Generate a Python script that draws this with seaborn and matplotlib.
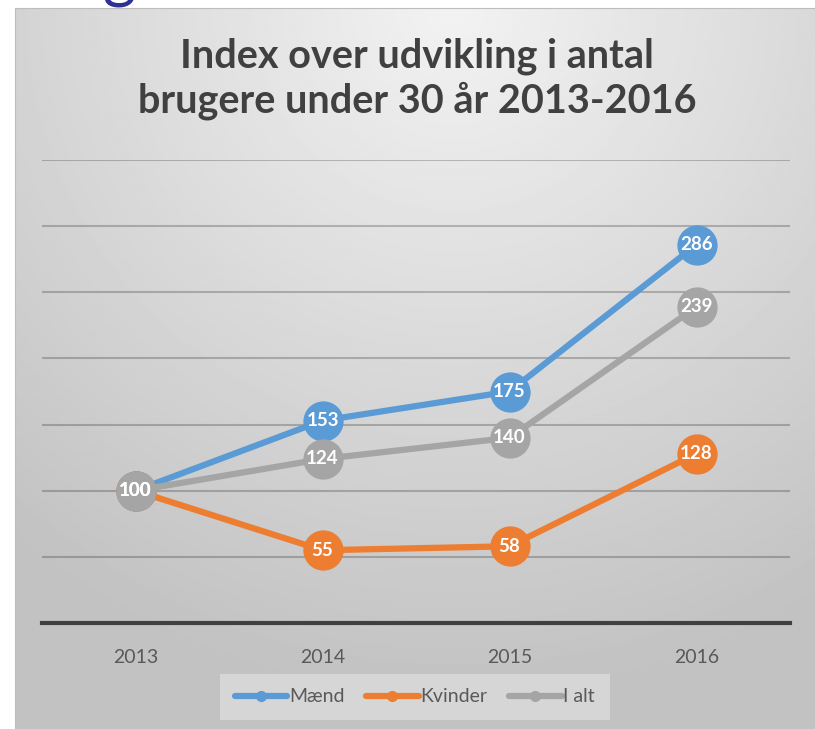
import numpy as np
import pandas as pd
import seaborn as sns
import matplotlib.pyplot as plt
from matplotlib.lines import Line2D

years = ['2013', '2014', '2015', '2016']
maend = [100, 153, 175, 286]
kvinder = [100, 55, 58, 128]
i_alt = [100, 124, 140, 239]
series_names = ['Mænd', 'Kvinder', 'I alt']
colors = ['#5b9bd5', '#ed7d31', '#a5a5a5']
title = 'Index over udvikling i antal\nbrugere under 30 år 2013-2016'

sns.set_style('white')
plt.rcParams['font.family'] = ['Lato', 'DejaVu Sans']

df = pd.DataFrame({'År': years * 3,
                   'Index': maend + kvinder + i_alt,
                   'Serie': [s for s in series_names for _ in years]})

fig = plt.figure(figsize=(8.15, 7.29), dpi=100)
fig.patch.set_facecolor('white')

# chart area background, radial-ish gradient like the office chart style
bg = fig.add_axes([15 / 815, 0, 1 - 15 / 815, 1 - 8 / 729], zorder=-2)
gx, gy = np.meshgrid(np.linspace(0, 1, 400), np.linspace(0, 1, 400))
d = np.sqrt(((gx - 0.55) * 1.0) ** 2 + ((gy - 0.0) * 0.9) ** 2)
shade = np.clip(0.95 - 0.22 * d, 0.76, 0.95)
bg.imshow(shade, cmap='gray', vmin=0, vmax=1, aspect='auto', extent=[0, 1, 1, 0])
bg.set_xticks([])
bg.set_yticks([])
for s in ['top', 'left']:
    bg.spines[s].set_color('#bdbdbd')
for s in ['bottom', 'right']:
    bg.spines[s].set_visible(False)

ax = fig.add_axes([42 / 815, 1 - 623 / 729, (790 - 42) / 815, (623 - 160) / 729])
ax.set_facecolor('none')

sns.lineplot(data=df, x='År', y='Index', hue='Serie', palette=colors,
             marker='o', markersize=29, linewidth=4.5, markeredgewidth=0,
             legend=False, ax=ax, zorder=3)

for name, vals, c in zip(series_names, [maend, kvinder, i_alt], colors):
    for i, v in enumerate(vals):
        ax.text(i, v, str(v), ha='center', va='center', color='white',
                fontsize=13.5, fontweight='bold', zorder=5)

ax.set_xlim(-0.5, 3.5)
ax.set_ylim(0, 350)
ax.set_yticks(np.arange(0, 351, 50))
ax.set_yticklabels([])
ax.tick_params(axis='y', length=0)
ax.tick_params(axis='x', length=0, labelsize=14, labelcolor='#595959', pad=19)
ax.yaxis.grid(True, color='black', alpha=0.22, linewidth=1.5)
ax.set_axisbelow(True)
ax.set_xlabel('')
ax.set_ylabel('')
for s in ['top', 'left', 'right']:
    ax.spines[s].set_visible(False)
ax.spines['bottom'].set_color('#404040')
ax.spines['bottom'].set_linewidth(3)

fig.text(417 / 815, 1 - 79 / 729, title, ha='center', va='center',
         fontsize=28.5, fontweight='bold', color='#404040', linespacing=1.2)

# fragment of slide heading above the chart
fig.text(103 / 815, 1 + 4 / 729, 'g', ha='left', va='baseline',
         fontsize=46, color='#2e3192')

handles = [Line2D([], [], color=c, linewidth=4.5, marker='o', markersize=7)
           for c in colors]
leg = fig.legend(handles, series_names, loc='center', ncol=3,
                 bbox_to_anchor=(415 / 815, 1 - 697 / 729), frameon=True,
                 fontsize=14, handlelength=2.7, handletextpad=0.1,
                 columnspacing=1.1, borderpad=0.75)
leg.get_frame().set_facecolor('#dcdcdc')
leg.get_frame().set_edgecolor('none')
leg.get_frame().set_boxstyle('square', pad=0)
for t in leg.get_texts():
    t.set_color('#595959')

fig.savefig('out.png', dpi=100, facecolor='white')
